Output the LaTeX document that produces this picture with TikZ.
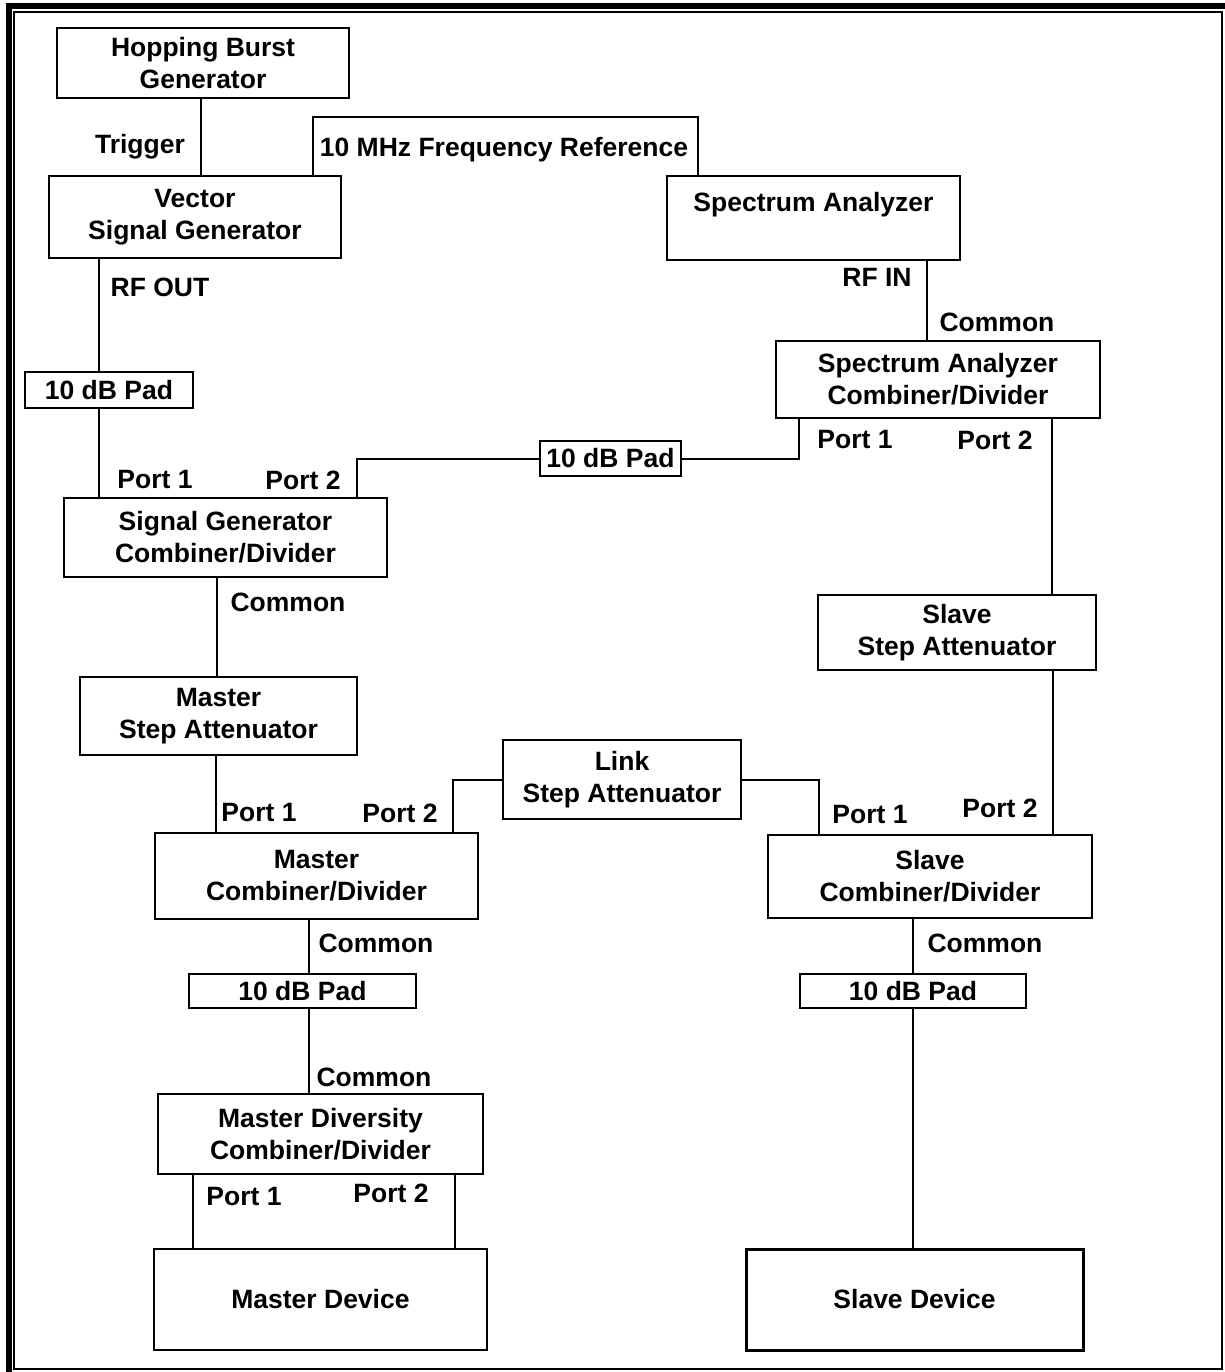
\documentclass[tikz,border=0pt]{standalone}
\usepackage{fontspec}
\setmainfont{Liberation Sans}
\begin{document}
\begin{tikzpicture}[x=0.5pt,y=-0.5pt,
  every node/.style={font=\fontsize{13.25}{16}\selectfont\bfseries},
  box/.style={draw,line width=1pt,inner sep=0pt,align=center},
  lbl/.style={inner sep=0pt},
  conn/.style={line width=1pt}]
\useasboundingbox (0,0) rectangle (1225,1372);
% frame
\fill[black] (6,3) rectangle (1225,9);
\fill[black] (6,3) rectangle (12,1372);
\draw[line width=1pt] (14,12) rectangle (1222,1369);
% boxes
\node[box,minimum width=146pt,minimum height=35pt] (hbg) at (203,63) {Hopping Burst\\Generator};
\node[box,minimum width=146pt,minimum height=41pt] (vsg) at (195,217) {Vector\\Signal Generator};
\node[box,minimum width=146.5pt,minimum height=42pt] (sa) at (813.5,218) {Spectrum Analyzer\\\mbox{}};
\node[box,minimum width=84pt,minimum height=18pt] (pad1) at (109,390) {10 dB Pad};
\node[box,minimum width=161.5pt,minimum height=39.5pt] (sgcd) at (225.5,537.5) {Signal Generator\\Combiner/Divider};
\node[box,minimum width=70.5pt,minimum height=17.5pt] (pad2) at (610.5,458.5) {10 dB Pad};
\node[box,minimum width=162pt,minimum height=38.5pt] (sacd) at (938,379.5) {Spectrum Analyzer\\Combiner/Divider};
\node[box,minimum width=139pt,minimum height=37.5pt] (ssa) at (957,632.5) {Slave\\Step Attenuator};
\node[box,minimum width=138.5pt,minimum height=39pt] (msa) at (218.5,716) {Master\\Step Attenuator};
\node[box,minimum width=119pt,minimum height=39.5pt] (lsa) at (622,779.5) {Link\\Step Attenuator};
\node[box,minimum width=161.5pt,minimum height=43pt] (mcd) at (316.5,876) {Master\\Combiner/Divider};
\node[box,minimum width=162pt,minimum height=41.5pt] (scd) at (930,876.5) {Slave\\Combiner/Divider};
\node[box,minimum width=113.5pt,minimum height=17pt] (pad3) at (302.5,991) {10 dB Pad};
\node[box,minimum width=113pt,minimum height=17pt] (pad4) at (913,991) {10 dB Pad};
\node[box,minimum width=162.5pt,minimum height=40pt] (mdcd) at (320.5,1134) {Master Diversity\\Combiner/Divider};
\node[box,minimum width=166.5pt,minimum height=50.5pt] (md) at (320.5,1299.5) {Master Device};
\node[box,minimum width=168.5pt,minimum height=50.5pt,line width=1.5pt] (sd) at (914.5,1299.5) {Slave Device};
% labels
\node[lbl] (l1) at (140,147) {Trigger};
\node[lbl] (l2) at (504,150) {10 MHz Frequency Reference};
\node[lbl] (l3) at (160,287) {RF OUT};
\node[lbl] (l4) at (877,277) {RF IN};
\node[lbl] (l5) at (997,322) {Common};
\node[lbl] (l6) at (155,480) {Port 1};
\node[lbl] (l7) at (303,480) {Port 2};
\node[lbl] (l8) at (855,440) {Port 1};
\node[lbl] (l9) at (995,440) {Port 2};
\node[lbl] (l10) at (288,602) {Common};
\node[lbl] (l11) at (259,813) {Port 1};
\node[lbl] (l12) at (400,813) {Port 2};
\node[lbl] (l13) at (870,815) {Port 1};
\node[lbl] (l14) at (1000,808) {Port 2};
\node[lbl] (l15) at (376,943) {Common};
\node[lbl] (l16) at (985,943) {Common};
\node[lbl] (l17) at (374,1077) {Common};
\node[lbl] (l18) at (244,1196) {Port 1};
\node[lbl] (l19) at (391,1193) {Port 2};
% connectors
\draw[conn] ([xshift=-1pt]hbg.south) -- ([xshift=-1pt]hbg.south |- vsg.north);
\draw[conn] ([xshift=59pt]vsg.north) -- ++(0,29pt) -| ([xshift=-57.75pt]sa.north);
\draw[conn] ([xshift=-48pt]vsg.south) -- ([xshift=-48pt]vsg.south |- pad1.north);
\draw[conn] ([xshift=-5pt]pad1.south) -- ([xshift=-5pt]pad1.south |- sgcd.north);
\draw[conn] ([xshift=65.75pt]sgcd.north) |- (pad2.west);
\draw[conn] (pad2.east) -| ([xshift=-69.5pt]sacd.south);
\draw[conn] ([xshift=56.75pt]sa.south) -- ([xshift=56.75pt]sa.south |- sacd.north);
\draw[conn] ([xshift=57pt]sacd.south) -- ([xshift=57pt]sacd.south |- ssa.north);
\draw[conn] ([xshift=48pt]ssa.south) -- ([xshift=48pt]ssa.south |- scd.north);
\draw[conn] ([xshift=-4.25pt]sgcd.south) -- ([xshift=-4.25pt]sgcd.south |- msa.north);
\draw[conn] ([xshift=-1.25pt]msa.south) -- ([xshift=-1.25pt]msa.south |- mcd.north);
\draw[conn] ([xshift=68.25pt]mcd.north) |- (lsa.west);
\draw[conn] (lsa.east) -| ([xshift=-55.5pt]scd.north);
\draw[conn] ([xshift=-3.75pt]mcd.south) -- ([xshift=-3.75pt]mcd.south |- pad3.north);
\draw[conn] ([xshift=-8.5pt]scd.south) -- ([xshift=-8.5pt]scd.south |- pad4.north);
\draw[conn] ([xshift=3.25pt]pad3.south) -- ([xshift=3.25pt]pad3.south |- mdcd.north);
\draw[conn] ([xshift=-63.75pt]mdcd.south) -- ([xshift=-63.75pt]mdcd.south |- md.north);
\draw[conn] ([xshift=67.25pt]mdcd.south) -- ([xshift=67.25pt]mdcd.south |- md.north);
\draw[conn] (pad4.south) -- (pad4.south |- sd.north);
\end{tikzpicture}
\end{document}
